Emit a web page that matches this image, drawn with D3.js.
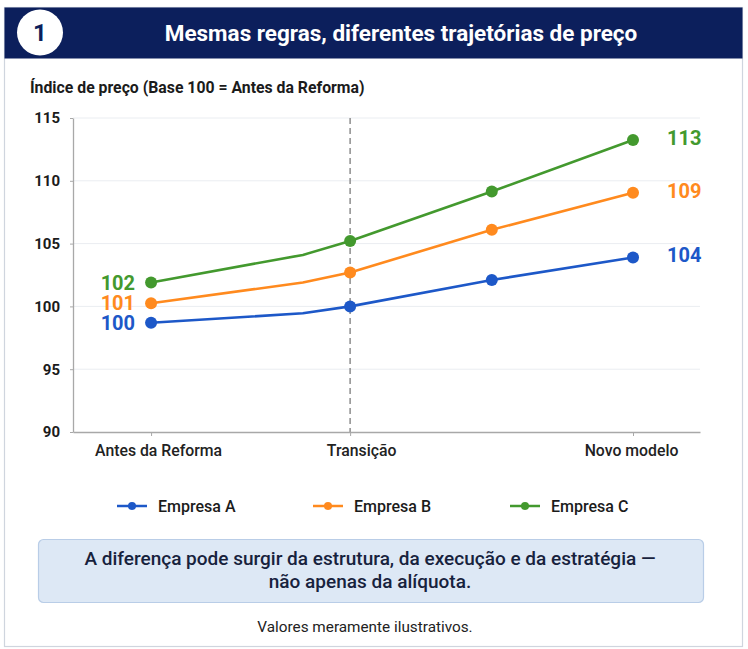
<!DOCTYPE html>
<html>
<head>
<meta charset="utf-8">
<script src="https://cdn.jsdelivr.net/npm/d3@7"></script>
<style>
  html, body { margin: 0; padding: 0; background: #ffffff; }
  svg { display: block; font-family: Roboto, "Noto Sans", sans-serif; }
</style>
</head>
<body>
<div id="chart-container"></div>
<script>
// data
var stageT = [0, 3.15, 4.13, 7.07, 10];          // position along the timeline
var stageMarked = [true, false, true, true, true];
var tickT = [0, 4.13, 10];
var tickLabels = ["Antes da Reforma", "Transição", "Novo modelo"];
var yTicks = [90, 95, 100, 105, 110, 115];

var seriesNames = ["Empresa A", "Empresa B", "Empresa C"];
var empresaA = [98.7, 99.45, 100.0, 102.1, 103.9];
var empresaB = [100.25, 101.9, 102.7, 106.1, 109.05];
var empresaC = [101.9, 104.1, 105.2, 109.15, 113.25];
var startLabels = ["100", "101", "102"];
var endLabels = ["104", "109", "113"];
var colors = ["#1d58c8", "#ff8a1e", "#43992e"];

var width = 748;
var height = 649;

var svg = d3.select("#chart-container")
    .append("svg")
    .attr("width", width)
    .attr("height", height);

// card
svg.append("rect")
    .attr("x", 4.5).attr("y", 7.5)
    .attr("width", 738).attr("height", 639)
    .attr("fill", "#fff")
    .attr("stroke", "#cfd5de")
    .attr("stroke-width", 1.2);

svg.append("rect")
    .attr("x", 4.5).attr("y", 7.5)
    .attr("width", 738).attr("height", 51)
    .attr("fill", "#0c1f5c");

svg.append("circle")
    .attr("cx", 40).attr("cy", 32.5).attr("r", 23)
    .attr("fill", "#fff");

svg.append("text")
    .attr("x", 40).attr("y", 41)
    .attr("text-anchor", "middle")
    .attr("font-size", 24).attr("font-weight", 700)
    .attr("fill", "#0c1f5c")
    .text("1");

svg.append("text")
    .attr("x", 401).attr("y", 40.5)
    .attr("text-anchor", "middle")
    .attr("font-size", 22.5).attr("font-weight", 700)
    .attr("fill", "#fff")
    .text("Mesmas regras, diferentes trajetórias de preço");

svg.append("text")
    .attr("x", 30).attr("y", 92.5)
    .attr("font-size", 15.8).attr("font-weight", 700)
    .attr("fill", "#1b1b1b")
    .text("Índice de preço (Base 100 = Antes da Reforma)");

// scales
var x = d3.scaleLinear()
    .domain([-1.62, 11.39])
    .range([73, 700]);

var y = d3.scaleLinear()
    .domain([90, 115])
    .range([432, 118]);

// gridlines
svg.append("g")
    .selectAll("line")
    .data(yTicks.slice(1))
    .enter().append("line")
    .attr("x1", 73).attr("x2", 700)
    .attr("y1", function(d) { return y(d); })
    .attr("y2", function(d) { return y(d); })
    .attr("stroke", "#eaedf1")
    .attr("stroke-width", 1);

// transition marker
svg.append("line")
    .attr("x1", x(tickT[1])).attr("x2", x(tickT[1]))
    .attr("y1", y(115)).attr("y2", y(90))
    .attr("stroke", "#8d8d8d")
    .attr("stroke-width", 1.5)
    .attr("stroke-dasharray", "6,4");

// axes
var labelShift = [7, 11, -2];
var xAxis = svg.append("g")
    .attr("transform", "translate(0," + y(90) + ")")
    .call(d3.axisBottom(x)
        .tickValues(tickT)
        .tickFormat(function(d, i) { return tickLabels[i]; })
        .tickSize(4)
        .tickSizeOuter(0));
xAxis.select(".domain").attr("stroke", "#a8a8a8").attr("stroke-width", 1.3);
xAxis.selectAll(".tick line").attr("stroke", "#a8a8a8");
xAxis.selectAll(".tick text")
    .attr("dy", "1.05em")
    .attr("dx", function(d, i) { return labelShift[i]; })
    .attr("font-family", "Roboto, sans-serif")
    .attr("font-size", 15.8).attr("font-weight", 500)
    .attr("fill", "#222");

var yAxis = svg.append("g")
    .attr("transform", "translate(73,0)")
    .call(d3.axisLeft(y)
        .tickValues(yTicks)
        .tickSize(3)
        .tickSizeOuter(0)
        .tickPadding(10));
yAxis.select(".domain").attr("stroke", "#a8a8a8").attr("stroke-width", 1.3);
yAxis.selectAll(".tick line").attr("stroke", "#a8a8a8");
yAxis.selectAll(".tick text")
    .attr("font-family", "Roboto, sans-serif")
    .attr("font-size", 15).attr("font-weight", 700)
    .attr("fill", "#1b1b1b");

// lines
var allSeries = [empresaA, empresaB, empresaC];
var line = d3.line()
    .x(function(d, i) { return x(stageT[i]); })
    .y(function(d) { return y(d); });

allSeries.forEach(function(values, s) {
    svg.append("path")
        .datum(values)
        .attr("d", line)
        .attr("fill", "none")
        .attr("stroke", colors[s])
        .attr("stroke-width", 2.6)
        .attr("stroke-linejoin", "round");

    svg.append("g")
        .selectAll("circle")
        .data(values.filter(function(d, i) { return stageMarked[i]; }))
        .enter().append("circle")
        .attr("cx", function(d) { return x(stageT[values.indexOf(d)]); })
        .attr("cy", function(d) { return y(d); })
        .attr("r", 6)
        .attr("fill", colors[s]);

    svg.append("text")
        .attr("x", x(stageT[0]) - 16)
        .attr("y", y(values[0]))
        .attr("dy", "0.35em")
        .attr("text-anchor", "end")
        .attr("font-size", 20).attr("font-weight", 700)
        .attr("fill", colors[s])
        .text(startLabels[s]);

    var last = values.length - 1;
    svg.append("text")
        .attr("x", x(stageT[last]) + 34)
        .attr("y", y(values[last]) - 2)
        .attr("dy", "0.35em")
        .attr("font-size", 20).attr("font-weight", 700)
        .attr("fill", colors[s])
        .text(endLabels[s]);
});

// legend
var legendX = [117, 313, 510];
var legend = svg.append("g")
    .selectAll("g")
    .data(seriesNames)
    .enter().append("g")
    .attr("transform", function(d, i) { return "translate(" + legendX[i] + ",506)"; });

legend.append("line")
    .attr("x1", 0).attr("x2", 30)
    .attr("stroke", function(d, i) { return colors[i]; })
    .attr("stroke-width", 2.5);
legend.append("circle")
    .attr("cx", 15).attr("r", 4)
    .attr("fill", function(d, i) { return colors[i]; });
legend.append("text")
    .attr("x", 41).attr("dy", "0.36em")
    .attr("font-size", 16).attr("font-weight", 500)
    .attr("fill", "#1b1b1b")
    .text(function(d) { return d; });

// note box
svg.append("rect")
    .attr("x", 38.5).attr("y", 539.5)
    .attr("width", 665).attr("height", 63)
    .attr("rx", 5)
    .attr("fill", "#dde8f5")
    .attr("stroke", "#b9cde7")
    .attr("stroke-width", 1.2);

var noteLines = ["A diferença pode surgir da estrutura, da execução e da estratégia —",
                 "não apenas da alíquota."];
svg.append("g")
    .selectAll("text")
    .data(noteLines)
    .enter().append("text")
    .attr("x", 370)
    .attr("y", function(d, i) { return 565 + i * 23; })
    .attr("text-anchor", "middle")
    .attr("font-size", 19).attr("font-weight", 500)
    .attr("fill", "#17223d")
    .text(function(d) { return d; });

svg.append("text")
    .attr("x", 365).attr("y", 632)
    .attr("text-anchor", "middle")
    .attr("font-size", 15.3)
    .attr("fill", "#222")
    .text("Valores meramente ilustrativos.");
</script>
</body>
</html>
